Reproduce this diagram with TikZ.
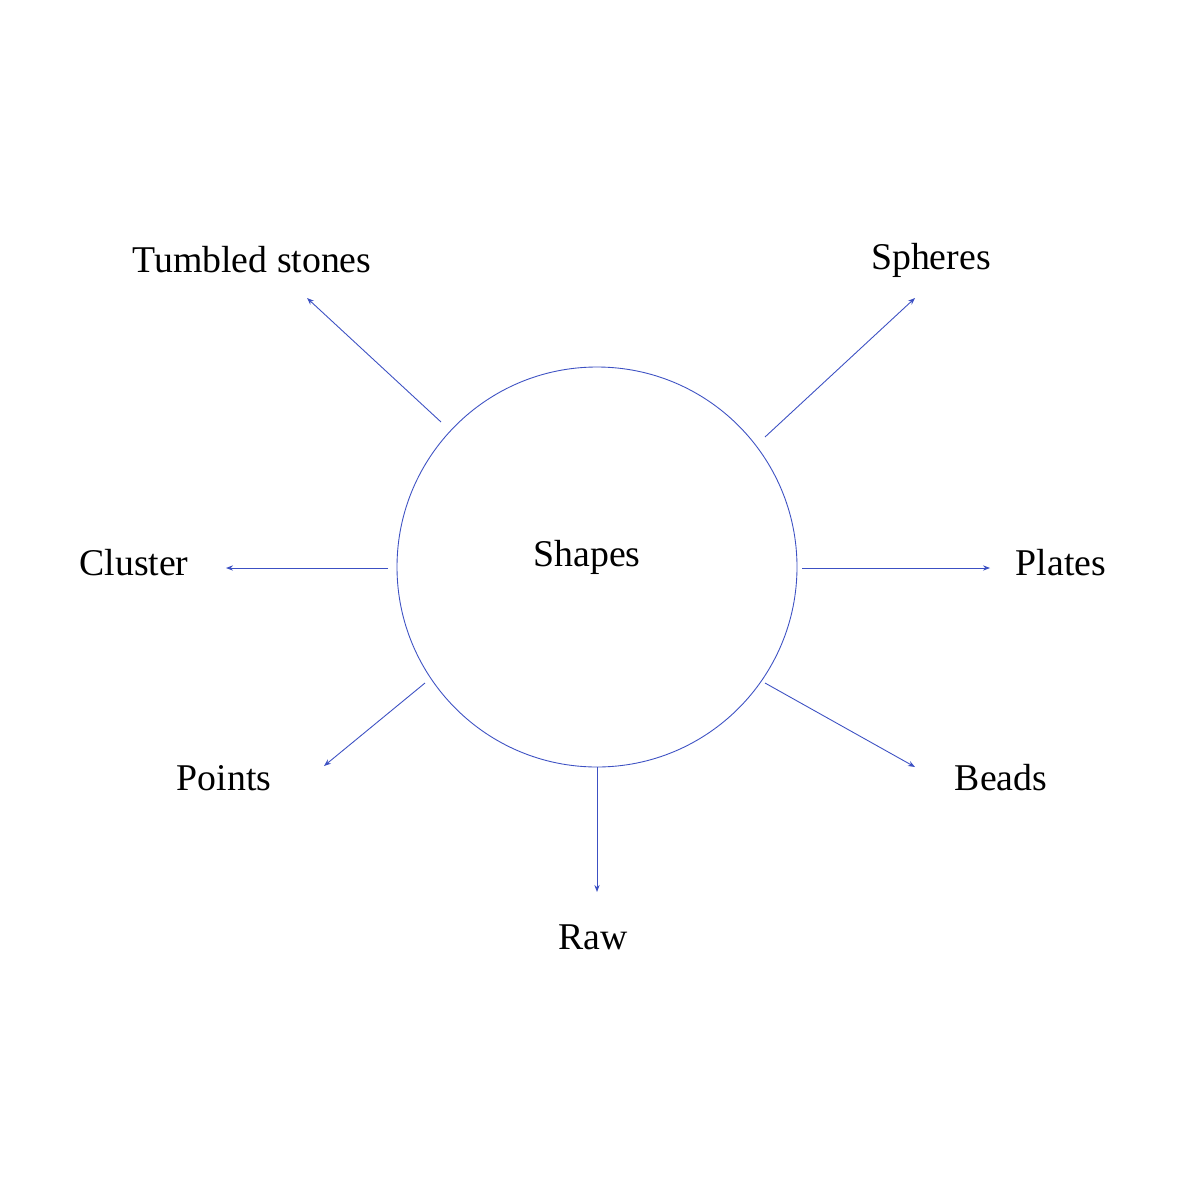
\documentclass[tikz,border=0pt]{standalone}
\usepackage{fontspec}
\setmainfont{Liberation Serif}
\usetikzlibrary{arrows.meta}
\definecolor{lineblue}{RGB}{60,80,195}
\begin{document}
\begin{tikzpicture}[x=0.02cm,y=-0.02cm,
  lbl/.style={font=\fontsize{21.5}{25}\selectfont, inner sep=0pt},
  arr/.style={draw=lineblue, line width=0.5pt, -{Stealth[length=4pt,width=3pt]}}]
\useasboundingbox (0,0) rectangle (1200,1200);
\fill[white] (0,0) rectangle (1200,1200);
\draw[lineblue, line width=0.5pt] (597,567) circle[radius=200];
\node[lbl] (shapes) at (587,557) {Shapes};
\node[lbl] (tumbled) at (252,260) {Tumbled stones};
\node[lbl] (spheres) at (931,260) {Spheres};
\node[lbl] (cluster) at (134,563) {Cluster};
\node[lbl] (plates) at (1061,563) {Plates};
\node[lbl] (points) at (224,778) {Points};
\node[lbl] (beads) at (1001,778) {Beads};
\node[lbl] (raw) at (593,937) {Raw};
\coordinate (s1) at (441,422); \coordinate (e1) at (307,298);
\coordinate (s2) at (765,437); \coordinate (e2) at (915,298);
\coordinate (s3) at (388,568); \coordinate (e3) at (226,568);
\coordinate (s4) at (802,568); \coordinate (e4) at (990,568);
\coordinate (s5) at (425,683); \coordinate (e5) at (324,766);
\coordinate (s6) at (765,683); \coordinate (e6) at (915,767);
\coordinate (s7) at (597,767); \coordinate (e7) at (597,892);
\foreach \i in {1,...,7} {\draw[arr] (s\i) -- (e\i);}
\end{tikzpicture}
\end{document}
